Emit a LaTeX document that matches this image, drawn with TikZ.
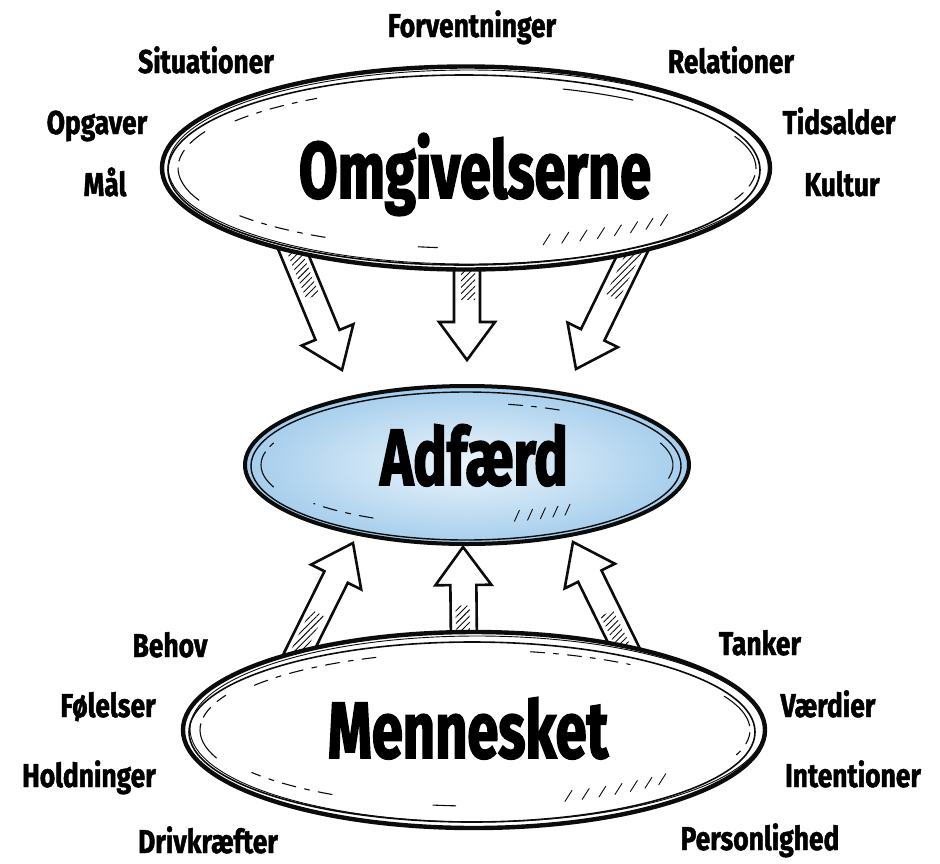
\documentclass[tikz,border=0pt]{standalone}
\usepackage{fontspec}
\usetikzlibrary{shapes.geometric,patterns.meta,calc}

% condensed heavy sans for the lettering
\newfontfamily\titlefont[FakeStretch=0.70,FakeBold=2.0]{Fira Sans}
\newfontfamily\labelfont[FakeStretch=0.80,FakeBold=1.4]{Fira Sans}

\definecolor{inkblack}{RGB}{12,12,12}
\definecolor{lakeinner}{RGB}{236,245,252}
\definecolor{lakeouter}{RGB}{164,205,236}

\tikzset{
  bubble/.style={ellipse, draw=inkblack, line width=4.4pt, fill=white, inner sep=0pt},
  sketch/.style={draw=inkblack, line width=1.1pt, line cap=round},
  sketchdash/.style={sketch, dash pattern=on 40pt off 7pt on 12pt off 9pt},
  sketchshort/.style={sketch, dash pattern=on 14pt off 9pt on 5pt off 9pt},
  hatchstroke/.style={draw=inkblack, line width=0.9pt, line cap=round},
  blockline/.style={draw=inkblack, line width=2.6pt, line join=miter, fill=white},
  bigword/.style={font=\titlefont\bfseries\fontsize{80}{80}\selectfont, text=black, anchor=base},
  tag/.style={font=\labelfont\bfseries\fontsize{33}{33}\selectfont, text=black, anchor=base}
}

% fat hollow arrow from #1 to #2, hatched near its tail
\newcommand\blockarrow[2]{%
  \path let \p1=(#1), \p2=(#2) in
    \pgfextra{%
      \pgfmathsetmacro\arrang{atan2(\y2-\y1,\x2-\x1)}%
      \pgfmathsetmacro\arrlen{veclen(\x2-\x1,\y2-\y1)}%
      \global\let\arrang\arrang \global\let\arrlen\arrlen};
  \begin{scope}[shift={(#1)}, rotate=\arrang]
    \path[blockline] (0,-13) -- ({\arrlen-38},-13) -- ({\arrlen-38},-28) -- (\arrlen,0)
      -- ({\arrlen-38},28) -- ({\arrlen-38},13) -- (0,13) -- cycle;
    \fill[pattern={Lines[angle=45,distance=4.5pt,line width=0.9pt]}, pattern color=inkblack]
      (4,-8) rectangle ({0.42*\arrlen},6);
  \end{scope}}

% arc inside an ellipse, given centre, radii and angles
\newcommand\rimarc[6]{%
  \draw[#6] ($(#1)+({#2*cos(#4)},{#3*sin(#4)})$)
    arc[start angle=#4, end angle=#5, x radius=#2, y radius=#3];}

% short diagonal strokes along the lower right of an ellipse
\newcommand\rimhatch[5]{%
  \foreach \t in {#4} {
    \draw[hatchstroke] ($(#1)+({#2*cos(\t)},{#3*sin(\t)})$) -- ++(#5,-11);}}

\begin{document}
\begin{tikzpicture}[x=1pt,y=-1pt]
\useasboundingbox (0,0) rectangle (940,863);

% arrow ends
\coordinate (tlTail) at (290,244);  \coordinate (tlTip) at (342,370);
\coordinate (tcTail) at (467,256);  \coordinate (tcTip) at (467,360);
\coordinate (trTail) at (637,244);  \coordinate (trTip) at (576,369);
\coordinate (blTail) at (293,664);  \coordinate (blTip) at (353,543);
\coordinate (bcTail) at (464,648);  \coordinate (bcTip) at (463,547);
\coordinate (brTail) at (633,664);  \coordinate (brTip) at (573,542);

\blockarrow{tlTail}{tlTip}
\blockarrow{tcTail}{tcTip}
\blockarrow{trTail}{trTip}
\blockarrow{blTail}{blTip}
\blockarrow{bcTail}{bcTip}
\blockarrow{brTail}{brTip}

% ---- Omgivelserne
\node[bubble, minimum width=608pt, minimum height=203pt] (omg) at (466,168) {};
\draw[sketch, line width=1.6pt] (omg.center) ++(-2,2) ellipse[x radius=296, y radius=95];
\draw[sketch, line width=0.9pt] (omg.center) ++(3,-1) ellipse[x radius=301, y radius=97];
\rimarc{omg.center}{288}{86}{158}{205}{sketchdash}
\rimarc{omg.center}{290}{84}{338}{382}{sketchdash}
\rimarc{omg.center}{282}{82}{215}{238}{sketchshort}
\rimarc{omg.center}{282}{80}{120}{146}{sketchshort}
\rimarc{omg.center}{284}{84}{290}{306}{sketch}
\rimarc{omg.center}{274}{80}{96}{100}{sketch}
\rimhatch{omg.center}{280}{80}{46,50,...,74}{7}
\node[bigword] (omgtext) at (475,198) {Omgivelserne};

% ---- Adfærd
\node[ellipse, minimum width=446pt, minimum height=160pt, inner sep=0pt,
      shading=radial, inner color=lakeinner, outer color=lakeouter] (adf) at (467,465) {};
\draw[inkblack, line width=4pt] (adf.center) ellipse[x radius=222, y radius=79];
\draw[sketch, line width=1.4pt] (adf.center) ++(-1,1) ellipse[x radius=215, y radius=74];
\rimarc{adf.center}{206}{64}{160}{200}{sketchdash}
\rimarc{adf.center}{206}{64}{340}{375}{sketchdash}
\rimarc{adf.center}{200}{60}{118}{140}{sketchshort}
\rimarc{adf.center}{200}{62}{282}{300}{sketchshort}
\rimhatch{adf.center}{196}{58}{60,64,...,76}{5}
\node[bigword] (adftext) at (474,485) {Adfærd};

% ---- Mennesket
\node[bubble, minimum width=582pt, minimum height=196pt] (men) at (474,730) {};
\draw[sketch, line width=1.6pt] (men.center) ++(-2,2) ellipse[x radius=283, y radius=90];
\draw[sketch, line width=0.9pt] (men.center) ++(3,-1) ellipse[x radius=287, y radius=93];
\rimarc{men.center}{274}{82}{160}{205}{sketchdash}
\rimarc{men.center}{276}{80}{335}{378}{sketchdash}
\rimarc{men.center}{268}{78}{215}{250}{sketchshort}
\rimarc{men.center}{268}{76}{122}{146}{sketchshort}
\rimarc{men.center}{272}{80}{282}{305}{sketchshort}
\rimarc{men.center}{262}{76}{94}{99}{sketch}
\rimhatch{men.center}{266}{76}{46,50,...,72}{7}
\node[bigword] (mentext) at (468,758) {Mennesket};

% ---- surrounding words
\node[tag] (forv) at (472,37) {Forventninger};
\node[tag] (situ) at (206,73) {Situationer};
\node[tag] (rela) at (731,73) {Relationer};
\node[tag] (opga) at (97,134) {Opgaver};
\node[tag] (tids) at (839,134) {Tidsalder};
\node[tag] (maal) at (105,196) {Mål};
\node[tag] (kult) at (842,196) {Kultur};

\node[tag] (beho) at (170,657) {Behov};
\node[tag] (foel) at (108,717) {Følelser};
\node[tag] (hold) at (89,787) {Holdninger};
\node[tag] (driv) at (208,853) {Drivkræfter};
\node[tag] (tank) at (760,655) {Tanker};
\node[tag] (vaer) at (828,717) {Værdier};
\node[tag] (inte) at (853,787) {Intentioner};
\node[tag] (pers) at (760,850) {Personlighed};
\end{tikzpicture}
\end{document}
